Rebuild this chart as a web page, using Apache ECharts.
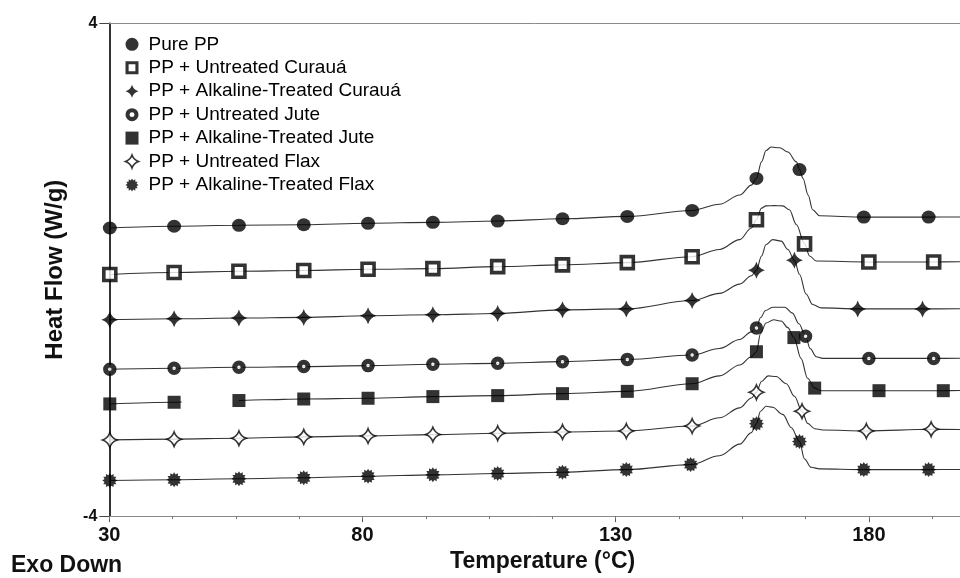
<!DOCTYPE html>
<html>
<head>
<meta charset="utf-8">
<title>DSC heating curves</title>
<script src="https://cdn.jsdelivr.net/npm/echarts@6/dist/echarts.min.js"></script>
<style>
  html, body { margin: 0; padding: 0; background: #fff; }
  #chart { width: 960px; height: 578px; }
</style>
</head>
<body>
<div id="chart"></div>
<script>
// Axis ticks
const xTickLabels = [30, 80, 130, 180];
const xMinorTicks = [30, 42.5, 55, 67.5, 80, 92.5, 105, 117.5, 130, 142.5, 155, 167.5, 180, 192.5];
const yTickLabels = [-4, 4];

const seriesNames = [
  'Pure PP',
  'PP + Untreated Curauá',
  'PP + Alkaline-Treated Curauá',
  'PP + Untreated Jute',
  'PP + Alkaline-Treated Jute',
  'PP + Untreated Flax',
  'PP + Alkaline-Treated Flax'
];

// Marker points [temperature °C, heat flow W/g]
const ppMarks = [[30.1,0.677],[42.8,0.705],[55.6,0.721],[68.4,0.730],[81.1,0.753],[93.9,0.769],[106.7,0.790],[119.5,0.827],[132.3,0.865],[145.1,0.962],[157.8,1.481],[166.3,1.626],[179.0,0.854],[191.8,0.854]];
const ucMarks = [[30.1,-0.078],[42.8,-0.046],[55.6,-0.025],[68.4,-0.014],[81.1,0.007],[93.9,0.018],[106.7,0.050],[119.5,0.078],[132.3,0.115],[145.1,0.211],[157.8,0.811],[167.3,0.420],[180.0,0.126],[192.8,0.126]];
const acMarks = [[30.1,-0.813],[42.8,-0.797],[55.6,-0.785],[68.4,-0.774],[81.1,-0.748],[93.9,-0.732],[106.7,-0.710],[119.5,-0.652],[132.1,-0.636],[145.1,-0.501],[157.8,-0.009],[165.3,0.152],[177.8,-0.636],[190.6,-0.636]];
const ujMarks = [[30.1,-1.617],[42.8,-1.600],[55.6,-1.584],[68.4,-1.573],[81.1,-1.557],[93.9,-1.536],[106.7,-1.520],[119.5,-1.493],[132.3,-1.456],[145.1,-1.385],[157.8,-0.946],[167.5,-1.080],[180.0,-1.440],[192.8,-1.440]];
const ajMarks = [[30.1,-2.179],[42.8,-2.152],[55.6,-2.124],[68.4,-2.099],[81.1,-2.087],[93.9,-2.060],[106.7,-2.044],[119.5,-2.012],[132.3,-1.975],[145.1,-1.851],[157.8,-1.332],[165.2,-1.102],[169.3,-1.922],[182.0,-1.964],[194.7,-1.964]];
const ufMarks = [[30.1,-2.763],[42.8,-2.751],[55.6,-2.735],[68.4,-2.714],[81.1,-2.698],[93.9,-2.677],[106.7,-2.655],[119.5,-2.634],[132.1,-2.618],[145.1,-2.538],[157.8,-1.991],[166.8,-2.297],[179.5,-2.618],[192.3,-2.591]];
const afMarks = [[30.1,-3.422],[42.8,-3.410],[55.6,-3.394],[68.4,-3.378],[81.1,-3.353],[93.9,-3.330],[106.7,-3.309],[119.5,-3.288],[132.1,-3.245],[144.8,-3.164],[157.8,-2.500],[166.3,-2.790],[179.0,-3.245],[191.8,-3.245]];

// Extra points along each trace between markers (melting endotherm region and tail)
const ppTrace = [[150.5,1.063],[154.5,1.213],[156.8,1.373],[158.8,1.75],[159.7,1.936],[160.7,1.991],[162.4,1.979],[164.0,1.91],[165.7,1.75],[167.0,1.481],[168.0,1.213],[168.9,0.972],[170.3,0.875],[198,0.856]];
const ucTrace = [[150.5,0.329],[154.5,0.489],[156.8,0.677],[158.8,0.999],[159.7,1.036],[161.3,1.040],[163.0,1.036],[164.3,0.972],[165.7,0.730],[168.3,0.222],[169.6,0.142],[198,0.128]];
const acTrace = [[150.5,-0.384],[154.5,-0.234],[156.8,-0.099],[158.8,0.222],[159.7,0.409],[161.0,0.489],[162.7,0.464],[164.0,0.329],[166.3,-0.073],[167.6,-0.395],[168.9,-0.565],[170.6,-0.620],[198,-0.634]];
const ujTrace = [[150.5,-1.279],[154.5,-1.134],[156.8,-1.010],[158.6,-0.780],[159.6,-0.662],[161.0,-0.609],[163.4,-0.609],[164.9,-0.705],[166.2,-0.877],[168.4,-1.279],[169.6,-1.412],[170.9,-1.440],[198,-1.438]];
const ajTrace = [[44.3,-2.147],[50,'-'],[60.4,-2.112],[150.5,-1.723],[154.5,-1.546],[156.8,-1.412],[158.6,-1.038],[159.7,-0.866],[161.2,-0.813],[162.7,-0.834],[164.0,-0.941],[166.6,-1.440],[167.9,-1.761],[170.6,-1.964],[198,-1.962]];
const ufTrace = [[150.5,-2.404],[154.5,-2.243],[156.8,-2.083],[158.8,-1.814],[160.1,-1.723],[161.7,-1.734],[163.7,-1.851],[165.3,-2.055],[167.9,-2.494],[169.3,-2.581],[170.9,-2.602],[198,-2.595]];
const afTrace = [[150.5,-3.020],[154.5,-2.832],[156.8,-2.645],[158.6,-2.297],[159.7,-2.216],[161.0,-2.232],[163.0,-2.349],[164.7,-2.565],[167.3,-3.073],[168.6,-3.208],[170.3,-3.234],[198,-3.243]];

const FONT = '"Liberation Sans", Arial, Helvetica, sans-serif';

// 12-point burst outline for the alkaline-treated flax symbol
function burstPath(n, rOut, rIn) {
  let d = '';
  for (let i = 0; i < 2 * n; i++) {
    const a = i * Math.PI / n - Math.PI / 2;
    const r = i % 2 ? rIn : rOut;
    d += (i ? 'L' : 'M') + (10 + r * Math.cos(a)).toFixed(2) + ',' + (10 + r * Math.sin(a)).toFixed(2);
  }
  return 'path://' + d + 'Z';
}

// four-pointed stars with concave sides
const starFilled = 'path://M10,0 Q12.2,7.8 20,10 Q12.2,12.2 10,20 Q7.8,12.2 0,10 Q7.8,7.8 10,0 Z';
const starHollow = 'path://M10,0 Q12.6,7.4 20,10 Q12.6,12.6 10,20 Q7.4,12.6 0,10 Q7.4,7.4 10,0 Z';
// solid outlines (with holes) used as legend icons for the open symbols
const ringIcon = 'path://M10,0 A10,10 0 1 1 10,20 A10,10 0 1 1 10,0 Z M10,6.2 A3.8,3.8 0 1 0 10,13.8 A3.8,3.8 0 1 0 10,6.2 Z';
const boxIcon = 'path://M0,0 L20,0 L20,20 L0,20 Z M4.8,4.8 L4.8,15.2 L15.2,15.2 L15.2,4.8 Z';

const styles = [
  { symbol: 'circle', size: [14, 13], item: { color: '#000' } },
  { symbol: 'rect', size: 12, item: { color: '#fff', borderColor: '#000', borderWidth: 3.6 } },
  { symbol: starFilled, size: 17, item: { color: '#000' } },
  { symbol: 'circle', size: 8.5, item: { color: '#fff', borderColor: '#000', borderWidth: 5 } },
  { symbol: 'rect', size: 13, item: { color: '#000' } },
  { symbol: starHollow, size: 14.5, item: { color: '#fff', borderColor: '#000', borderWidth: 1.6 } },
  { symbol: burstPath(12, 10, 7.3), size: 15, item: { color: '#000' } }
];

const legendItems = [
  { name: seriesNames[0], icon: 'circle', itemStyle: { color: '#000', borderWidth: 0 } },
  { name: seriesNames[1], icon: boxIcon, itemStyle: { color: '#000', borderWidth: 0 } },
  { name: seriesNames[2], icon: starFilled, itemStyle: { color: '#000', borderWidth: 0 } },
  { name: seriesNames[3], icon: ringIcon, itemStyle: { color: '#000', borderWidth: 0 } },
  { name: seriesNames[4], icon: 'rect', itemStyle: { color: '#000', borderWidth: 0 } },
  { name: seriesNames[5], icon: starHollow, itemStyle: { color: '#fff', borderColor: '#000', borderWidth: 1.6 } },
  { name: seriesNames[6], icon: styles[6].symbol, itemStyle: { color: '#000', borderWidth: 0 } }
];

const marks = [ppMarks, ucMarks, acMarks, ujMarks, ajMarks, ufMarks, afMarks];
const traces = [ppTrace, ucTrace, acTrace, ujTrace, ajTrace, ufTrace, afTrace];

function curveOf(m, t) {
  return m.concat(t).sort((a, b) => a[0] - b[0]);
}

const series = [];
// marker series first so the legend takes their symbols
marks.forEach((m, i) => {
  series.push({
    name: seriesNames[i],
    type: 'scatter',
    data: m,
    symbol: styles[i].symbol,
    symbolSize: styles[i].size,
    itemStyle: styles[i].item,
    z: 4,
    silent: true
  });
});
marks.forEach((m, i) => {
  series.push({
    name: seriesNames[i],
    type: 'line',
    data: curveOf(m, traces[i]),
    showSymbol: false,
    symbol: 'none',
    smooth: 0.35,
    smoothMonotone: 'x',
    connectNulls: false,
    lineStyle: { color: '#333', width: 1.1 },
    z: 2,
    silent: true
  });
});

const chart = echarts.init(document.getElementById('chart'), null, { renderer: 'canvas' });
chart.setOption({
  animation: false,
  backgroundColor: '#fff',
  grid: { left: 109.3, right: 0, top: 23.3, bottom: 56.7, containLabel: false },
  legend: {
    data: legendItems,
    orient: 'vertical',
    left: 119.7,
    top: 29.3,
    itemWidth: 13,
    itemHeight: 13,
    itemGap: 3.45,
    selectedMode: false,
    textStyle: { fontFamily: FONT, fontSize: 19, lineHeight: 20, color: '#000', padding: [0, 0, 0, 5] }
  },
  xAxis: [
    {
      type: 'value', min: 30, max: 198, position: 'bottom',
      axisLine: { show: true, onZero: false, lineStyle: { color: '#8a8a8a', width: 1 } },
      axisTick: { show: true, customValues: xTickLabels, length: 6, lineStyle: { color: '#555' } },
      axisLabel: { customValues: xTickLabels, fontFamily: FONT, fontSize: 20, fontWeight: 'bold', color: '#111', margin: 9 },
      splitLine: { show: false },
      name: 'Temperature (°C)', nameLocation: 'middle', nameGap: 33,
      nameTextStyle: { fontFamily: FONT, fontSize: 23, fontWeight: 'bold', color: '#111', padding: [0, 0, 0, 16] }
    },
    {
      type: 'value', min: 30, max: 198, position: 'bottom',
      axisLine: { show: false, onZero: false },
      axisTick: { show: true, customValues: xMinorTicks, length: 3, lineStyle: { color: '#777' } },
      axisLabel: { show: false },
      splitLine: { show: false }
    },
    {
      type: 'value', min: 30, max: 198, position: 'top',
      axisLine: { show: true, onZero: false, lineStyle: { color: '#8a8a8a', width: 1 } },
      axisTick: { show: false },
      axisLabel: { show: false },
      splitLine: { show: false }
    }
  ],
  yAxis: {
    type: 'value', min: -4, max: 4,
    axisLine: { show: true, onZero: false, lineStyle: { color: '#000', width: 1.6 } },
    axisTick: { show: true, customValues: yTickLabels, length: 10, lineStyle: { color: '#444' } },
    axisLabel: { customValues: yTickLabels, fontFamily: FONT, fontSize: 16, fontWeight: 'bold', color: '#111', margin: 12 },
    splitLine: { show: false },
    name: 'Heat Flow (W/g)', nameLocation: 'middle', nameGap: 42,
    nameTextStyle: { fontFamily: FONT, fontSize: 24, fontWeight: 'bold', color: '#111' }
  },
  graphic: [
    {
      type: 'text', left: 11, top: 554,
      style: { text: 'Exo Down', font: 'bold 23px ' + FONT, fill: '#111' }
    }
  ],
  series: series
});
</script>
</body>
</html>
